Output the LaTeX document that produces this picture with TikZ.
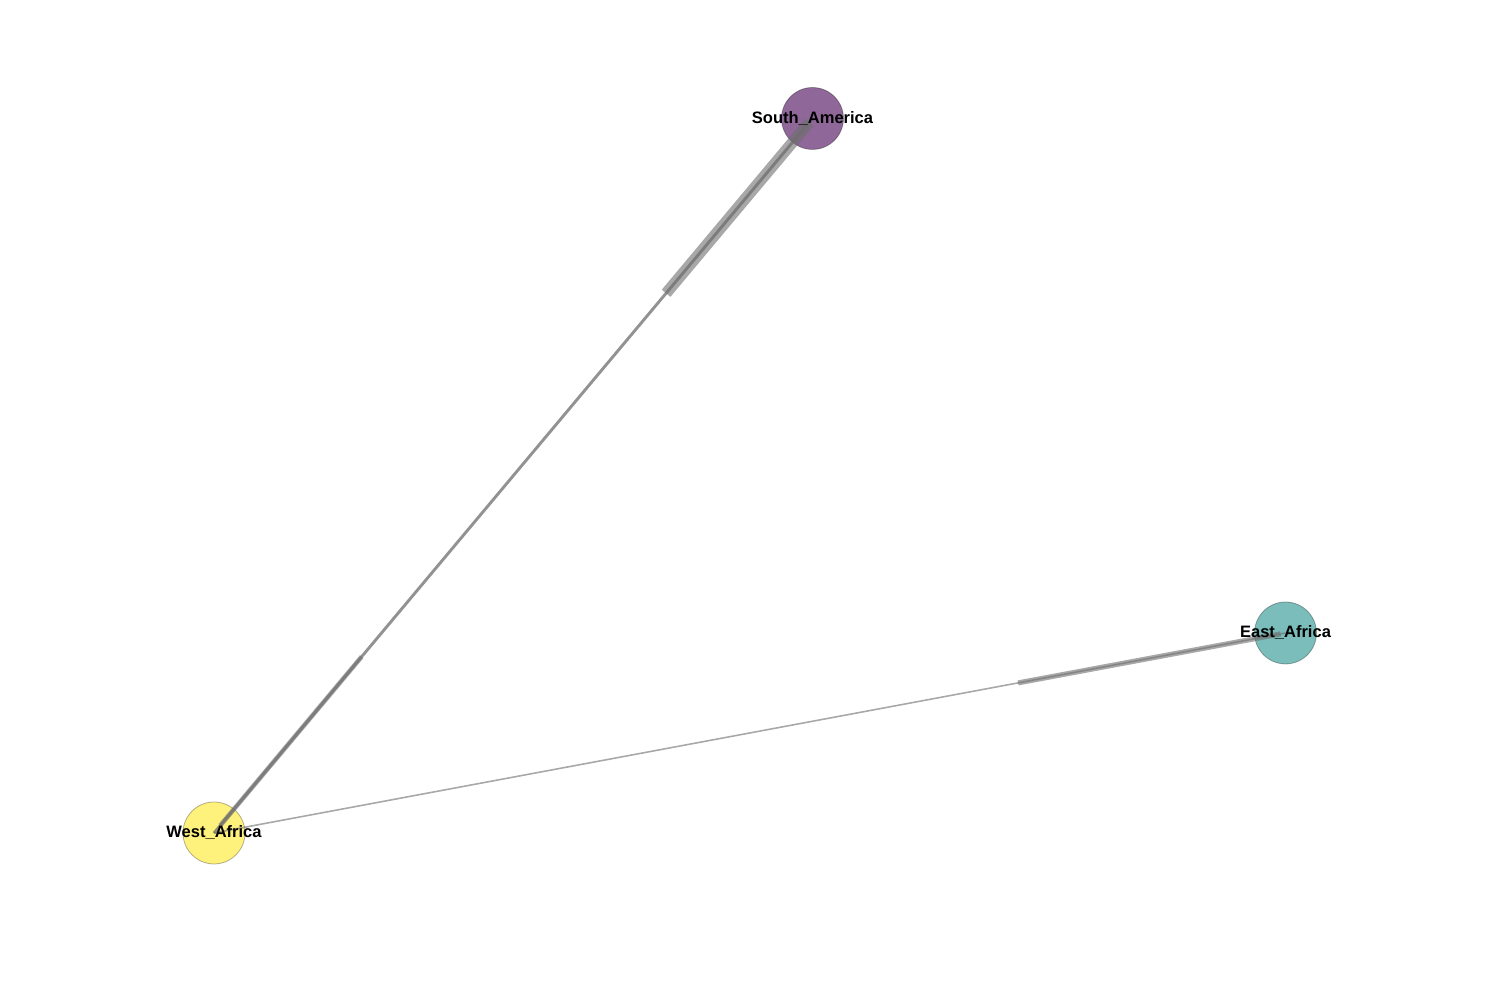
\documentclass[tikz,border=0pt]{standalone}
\usepackage{fontspec}
\setmainfont{Liberation Sans}
\usetikzlibrary{calc}
\definecolor{cSA}{RGB}{143,103,152}
\definecolor{cEA}{RGB}{122,189,186}
\definecolor{cWA}{RGB}{254,241,124}
\definecolor{edgec}{RGB}{110,110,110}
\tikzset{
  place/.style={circle, minimum size=0.62cm, inner sep=0pt, draw=black, draw opacity=0.3, line width=0.22pt},
  lbl/.style={font=\fontsize{4.7}{5.6}\selectfont\bfseries, inner sep=0pt, text=black},
  thinedge/.style={draw=edgec, draw opacity=0.6, line width=0.45pt},
  pairedge/.style={draw=edgec, draw opacity=0.5, line width=0.8pt},
  headedge/.style={draw=edgec, draw opacity=0.6},
}
\begin{document}
\begin{tikzpicture}
\useasboundingbox (0,0) rectangle (15,10);
% nodes
\node[place, fill=cSA] (SA) at (8.125,8.815) {};
\node[place, fill=cWA] (WA) at (2.14,1.67) {};
\node[place, fill=cEA] (EA) at (12.855,3.67) {};
% edges: South_America -> West_Africa
\draw[pairedge] (SA.center) -- (WA.center);
\draw[headedge, line width=1.3pt] ($(WA.center)!2.30cm!(SA.center)$) coordinate (h1) -- ($(WA.center)!0.1cm!(SA.center)$);
% West_Africa -> South_America
\draw[pairedge] (WA.center) -- (SA.center);
\draw[headedge, line width=3.2pt] ($(SA.center)!2.28cm!(WA.center)$) coordinate (h2) -- ($(SA.center)!0.05cm!(WA.center)$);
% West_Africa -> East_Africa
\draw[thinedge] (WA.center) -- (EA.center);
\draw[headedge, line width=1.45pt] ($(EA.center)!2.72cm!(WA.center)$) coordinate (h3) -- ($(EA.center)!0.05cm!(WA.center)$);
% labels
\node[lbl] (SAl) at (SA.center) {South\_America};
\node[lbl] (WAl) at (WA.center) {West\_Africa};
\node[lbl] (EAl) at (EA.center) {East\_Africa};
\end{tikzpicture}
\end{document}
